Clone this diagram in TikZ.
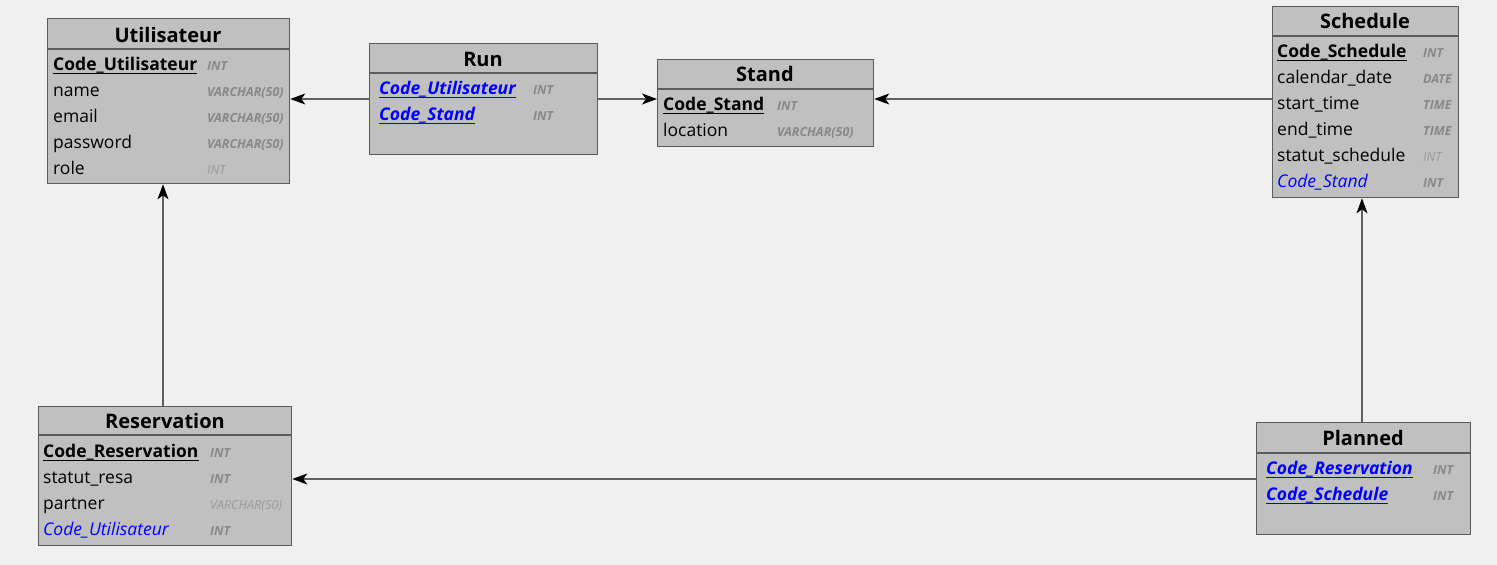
\documentclass[tikz,border=0pt]{standalone}
\usepackage{fontspec}
\setmainfont{Open Sans}
\usetikzlibrary{arrows.meta}

\definecolor{bg}{HTML}{F0F0F0}
\definecolor{boxfill}{HTML}{C0C0C0}
\definecolor{boxline}{HTML}{5C5C5C}
\definecolor{fkblue}{HTML}{0000FF}
\definecolor{typegray}{HTML}{888888}
\definecolor{typelight}{HTML}{9A9A9A}
\definecolor{wire}{HTML}{606060}

\tikzset{
  tbl/.style={draw=boxline, fill=boxfill, line width=1.3pt, anchor=north west, inner sep=0pt},
  sepline/.style={draw=boxline, line width=1.3pt},
  ttl/.style={anchor=base, inner sep=0pt, font=\fontsize{20}{24}\selectfont\bfseries, text=black},
  fld/.style={anchor=base west, inner sep=0pt, font=\fontsize{17.5}{21}\selectfont, text=black},
  pk/.style={fld, font=\fontsize{17.5}{21}\selectfont\bfseries},
  fk/.style={fld, font=\fontsize{17.5}{21}\selectfont\itshape, text=fkblue},
  pfk/.style={fld, font=\fontsize{17.5}{21}\selectfont\bfseries\itshape, text=fkblue},
  typ/.style={anchor=base west, inner sep=0pt, font=\fontsize{12.5}{15}\selectfont\bfseries\itshape, text=typegray},
  typl/.style={typ, font=\fontsize{12.5}{15}\selectfont\itshape, text=typelight},
  conn/.style={draw=wire, line width=1.1pt, -{Stealth[length=15pt,width=11pt,inset=4pt,color=black]}},
}

% table frame: name, left, top, width, height, y of the header rule
\newcommand\erbox[6]{%
  \node[tbl, minimum width=#4pt, minimum height=#5pt] (#1) at (#2,#3) {};
  \draw[sepline] (#1.west |- 0,#6) -- (#1.east |- 0,#6);}
% key underline below a field node
\newcommand\keyline[2]{%
  \draw[draw=#2, line width=1.2pt] ([yshift=-3.5pt]#1.base west) -- ([yshift=-3.5pt]#1.base east);}

\begin{document}
\begin{tikzpicture}[x=1pt,y=-1pt]
\useasboundingbox (0,0) rectangle (1497,565);
\fill[bg] (0,0) rectangle (1497,565);

% ---------- Utilisateur ----------
\erbox{utl}{47}{18}{242}{165}{49}
\node[ttl] (utlT) at (168,42) {Utilisateur};
\node[pk] (utl1) at (53,70) {Code\_Utilisateur}; \keyline{utl1}{black}
\node[fld] (utl2) at (53,96) {name};
\node[fld] (utl3) at (53,122) {email};
\node[fld] (utl4) at (53,148) {password};
\node[fld] (utl5) at (53,174) {role};
\node[typ] (utl1t) at (207,70) {INT};
\node[typ] (utl2t) at (207,96) {VARCHAR(50)};
\node[typ] (utl3t) at (207,122) {VARCHAR(50)};
\node[typ] (utl4t) at (207,148) {VARCHAR(50)};
\node[typl] (utl5t) at (207,174) {INT};

% ---------- Run ----------
\erbox{run}{369}{43}{228}{111}{73}
\node[ttl] (runT) at (483,66) {Run};
\node[pfk] (run1) at (379,94) {Code\_Utilisateur}; \keyline{run1}{fkblue}
\node[pfk] (run2) at (379,120) {Code\_Stand}; \keyline{run2}{fkblue}
\node[typ] (run1t) at (533,94) {INT};
\node[typ] (run2t) at (533,120) {INT};

% ---------- Stand ----------
\erbox{std}{657}{59}{216}{87}{89}
\node[ttl] (stdT) at (765,81) {Stand};
\node[pk] (std1) at (663,110) {Code\_Stand}; \keyline{std1}{black}
\node[fld] (std2) at (663,136) {location};
\node[typ] (std1t) at (777,110) {INT};
\node[typ] (std2t) at (777,136) {VARCHAR(50)};

% ---------- Schedule ----------
\erbox{sch}{1272}{6}{186}{191}{36}
\node[ttl] (schT) at (1365,28) {Schedule};
\node[pk] (sch1) at (1277,57) {Code\_Schedule}; \keyline{sch1}{black}
\node[fld] (sch2) at (1277,83) {calendar\_date};
\node[fld] (sch3) at (1277,109) {start\_time};
\node[fld] (sch4) at (1277,135) {end\_time};
\node[fld] (sch5) at (1277,161) {statut\_schedule};
\node[fk] (sch6) at (1277,187) {Code\_Stand};
\node[typ] (sch1t) at (1423,57) {INT};
\node[typ] (sch2t) at (1423,83) {DATE};
\node[typ] (sch3t) at (1423,109) {TIME};
\node[typ] (sch4t) at (1423,135) {TIME};
\node[typl] (sch5t) at (1423,161) {INT};
\node[typ] (sch6t) at (1423,187) {INT};

% ---------- Reservation ----------
\erbox{res}{38}{406}{253}{139}{435}
\node[ttl] (resT) at (165,428) {Reservation};
\node[pk] (res1) at (43,457) {Code\_Reservation}; \keyline{res1}{black}
\node[fld] (res2) at (43,483) {statut\_resa};
\node[fld] (res3) at (43,509) {partner};
\node[fk] (res4) at (43,535) {Code\_Utilisateur};
\node[typ] (res1t) at (210,457) {INT};
\node[typ] (res2t) at (210,483) {INT};
\node[typl] (res3t) at (210,509) {VARCHAR(50)};
\node[typ] (res4t) at (210,535) {INT};

% ---------- Planned ----------
\erbox{pln}{1256}{422}{214}{112}{453}
\node[ttl] (plnT) at (1363,445) {Planned};
\node[pfk] (pln1) at (1266,474) {Code\_Reservation}; \keyline{pln1}{fkblue}
\node[pfk] (pln2) at (1266,500) {Code\_Schedule}; \keyline{pln2}{fkblue}
\node[typ] (pln1t) at (1433,474) {INT};
\node[typ] (pln2t) at (1433,500) {INT};

% ---------- relations ----------
\draw[conn] (run.west |- 0,99) -- (utl.east |- 0,99);
\draw[conn] (run.east |- 0,99) -- (std.west |- 0,99);
\draw[conn] (sch.west |- 0,99) -- (std.east |- 0,99);
\draw[conn] (res.north -| 163,0) -- (utl.south -| 163,0);
\draw[conn] (pln.north -| 1362,0) -- (sch.south -| 1362,0);
\draw[conn] (pln.west |- 0,479) -- (res.east |- 0,479);
\end{tikzpicture}
\end{document}
